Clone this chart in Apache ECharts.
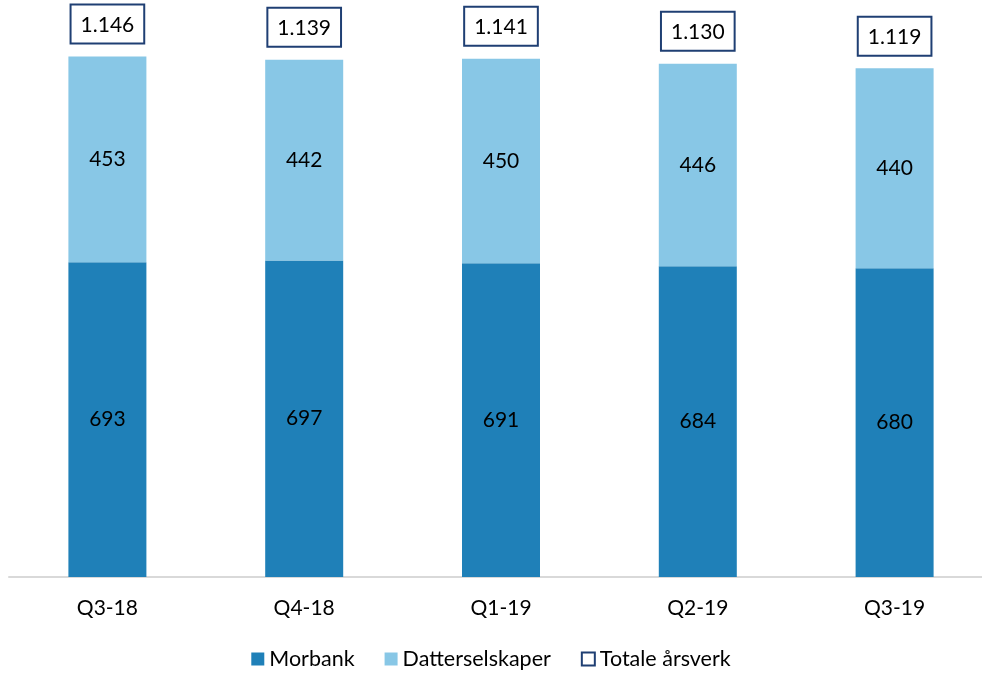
<!DOCTYPE html>
<html>
<head>
<meta charset="utf-8">
<script src="https://cdn.jsdelivr.net/npm/echarts@6/dist/echarts.min.js"></script>
<style>
  html, body { margin: 0; padding: 0; background: #fff; }
  #chart { width: 982px; height: 673px; }
</style>
</head>
<body>
<div id="chart"></div>
<script>
var quarters = ['Q3-18', 'Q4-18', 'Q1-19', 'Q2-19', 'Q3-19'];
var morbank = [693, 697, 691, 684, 680];
var datter = [453, 442, 450, 446, 440];
var totals = [1146, 1139, 1141, 1130, 1119];

// norsk tallformat: 1146 -> 1.146
function fmtNo(v) {
  return String(v).replace(/\B(?=(\d{3})+(?!\d))/g, '.');
}

var font = 'Lato, "Open Sans", sans-serif';
var chart = echarts.init(document.getElementById('chart'));

chart.setOption({
  animation: false,
  textStyle: { fontFamily: font },
  grid: { left: 9, width: 984, top: 32, bottom: 96, outerBoundsMode: 'none', containLabel: false },
  legend: {
    bottom: -2,
    left: 'center',
    itemWidth: 13,
    itemHeight: 13,
    itemGap: 30,
    textStyle: { fontSize: 21.5, color: '#000', fontFamily: font },
    data: [
      { name: 'Morbank', icon: 'rect' },
      { name: 'Datterselskaper', icon: 'rect' },
      { name: 'Totale årsverk', icon: 'rect',
        itemStyle: { color: '#fff', borderColor: '#1f3f73', borderWidth: 2 } }
    ]
  },
  xAxis: {
    type: 'category',
    data: quarters,
    axisLine: { lineStyle: { color: '#d9d9d9', width: 2 } },
    axisTick: { show: false },
    axisLabel: { fontSize: 21, color: '#000', margin: 21, fontFamily: font }
  },
  yAxis: {
    type: 'value',
    min: 0,
    max: 1200,
    show: false,
    splitLine: { show: false }
  },
  series: [
    {
      name: 'Morbank',
      type: 'bar',
      stack: 'a',
      barWidth: 78,
      data: morbank,
      itemStyle: { color: '#1f80b8' },
      label: { show: true, position: 'inside', fontSize: 21, color: '#000', fontFamily: font }
    },
    {
      name: 'Datterselskaper',
      type: 'bar',
      stack: 'a',
      barWidth: 78,
      data: datter,
      itemStyle: { color: '#88c7e6' },
      label: { show: true, position: 'inside', fontSize: 21, color: '#000', fontFamily: font }
    },
    {
      name: 'Totale årsverk',
      type: 'bar',
      barWidth: 78,
      barGap: '-100%',
      silent: true,
      z: 1,
      data: totals,
      itemStyle: { color: 'rgba(0,0,0,0)' },
      label: {
        show: true,
        position: 'top',
        distance: 14,
        fontSize: 21,
        color: '#000',
        fontFamily: font,
        backgroundColor: '#fff',
        borderColor: '#1f3f73',
        borderWidth: 2,
        padding: [9, 9, 7, 9],
        formatter: function (p) { return fmtNo(p.value); }
      }
    }
  ]
});
</script>
</body>
</html>
